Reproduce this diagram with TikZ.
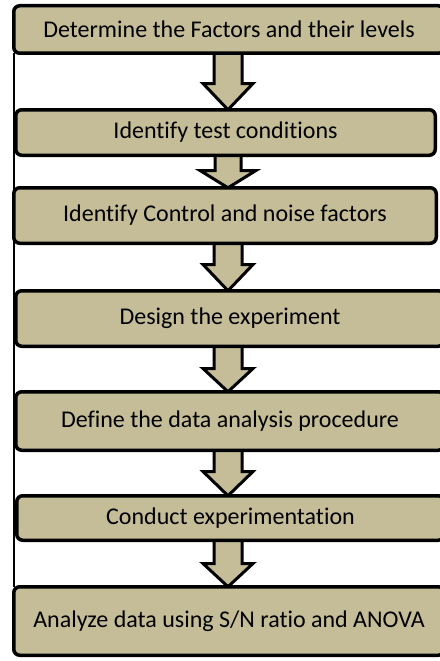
\documentclass[tikz,border=0pt]{standalone}
\usepackage{fontspec}
\setmainfont[Ligatures=NoCommon]{Carlito}
\usetikzlibrary{calc}
\pgfdeclarelayer{background}
\pgfsetlayers{background,main}
\definecolor{tan}{HTML}{C4BD97}

% block arrow from the bottom of one step to the top of the next
% #1 upper node, #2 lower node, #3 y where the head starts,
% #4 half width of the shaft, #5 half width of the head
\newcommand{\flowarrow}[5]{%
  \draw[flowarr] let \p1=(#1.south), \p2=(#2.north) in
    (228-#4,\y1) -- (228-#4,#3) -- (228-#5,#3) -- (228,\y2)
    -- (228+#5,#3) -- (228+#4,#3) -- (228+#4,\y1) -- cycle;}

\begin{document}
\begin{tikzpicture}[x=1pt,y=-1pt,
  stepbox/.style={draw=black, fill=tan, line width=3.5pt, rounded corners=6pt,
    inner sep=0pt, outer sep=0pt, font=\fontsize{24}{28}\selectfont},
  flowarr/.style={draw=black, fill=tan, line width=3pt, line join=miter},
  spineline/.style={draw=black, line width=1.5pt}]
\useasboundingbox (0,0) rectangle (439,661);

\node[stepbox, minimum width=430.5pt, minimum height=47.5pt] (b1) at (229,29.5)
  {Determine the Factors and their levels};
\node[stepbox, minimum width=419.5pt, minimum height=45.5pt] (b2) at (225.5,132.5)
  {Identify test conditions};
\node[stepbox, minimum width=422.5pt, minimum height=55.5pt] (b3) at (225,215.5)
  {Identify Control and noise factors};
\node[stepbox, minimum width=428.5pt, minimum height=55.5pt] (b4) at (230,318.5)
  {Design the experiment};
\node[stepbox, minimum width=428.5pt, minimum height=58.5pt] (b5) at (230,421)
  {Define the data analysis procedure};
\node[stepbox, minimum width=427.5pt, minimum height=44.5pt] (b6) at (230.5,518)
  {Conduct experimentation};
\node[stepbox, minimum width=430.5pt, minimum height=68.5pt] (b7) at (229,621)
  {Analyze data using S/N ratio and ANOVA};

\coordinate (spine) at (14,0);

\begin{pgfonlayer}{background}
  \draw[spineline] (b1.south -| spine) -- (b7.north -| spine);
  \flowarrow{b1}{b2}{83.5}{14}{25}
  \flowarrow{b2}{b3}{170.5}{13}{28}
  \flowarrow{b3}{b4}{264.5}{14}{25}
  \flowarrow{b4}{b5}{368.5}{14}{25}
  \flowarrow{b5}{b6}{471.5}{14}{25}
  \flowarrow{b6}{b7}{563.5}{14}{25}
\end{pgfonlayer}
\end{tikzpicture}
\end{document}
